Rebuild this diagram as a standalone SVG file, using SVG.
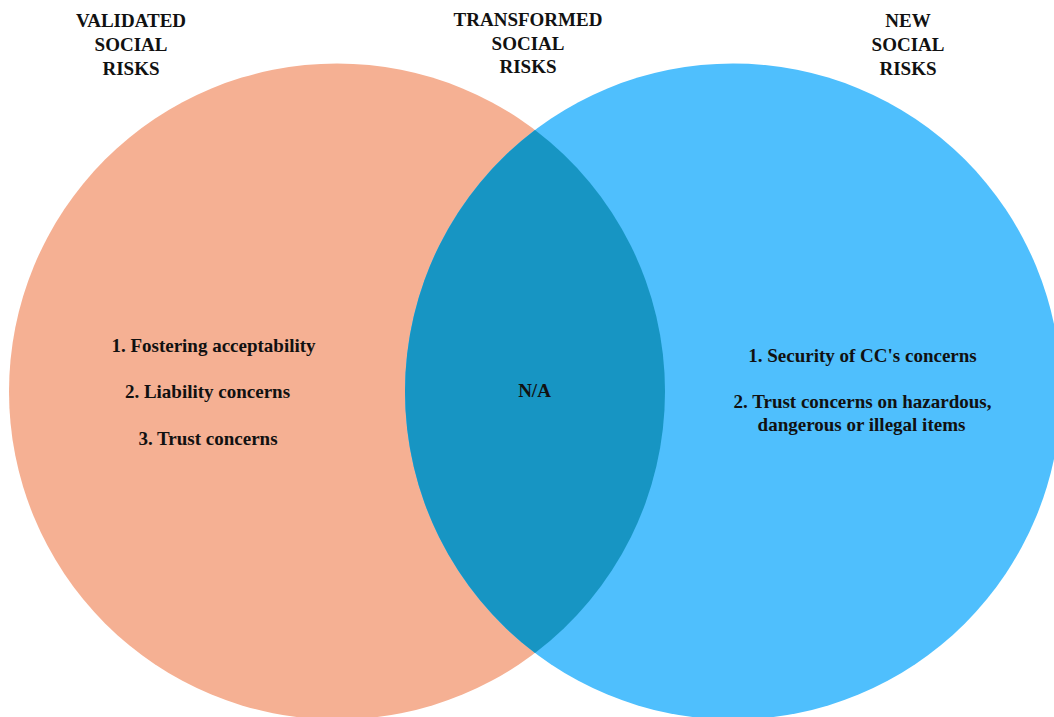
<svg xmlns="http://www.w3.org/2000/svg" width="1054" height="717" viewBox="0 0 1054 717">
  <style>
    .t { font-family: "Liberation Serif", "Times New Roman", serif; font-weight: bold; font-size: 19px; fill: #111; text-anchor: middle; }
  </style>
  <rect x="0" y="0" width="1054" height="717" fill="#ffffff"/>
  <g id="validated">
    <circle cx="337" cy="391.5" r="328" fill="#F5B093"/>
  </g>
  <g id="new">
    <circle cx="733" cy="391.5" r="328" fill="#4FBFFD"/>
  </g>
  <g id="transformed">
    <path d="M 535 130 A 328 328 0 0 1 535 653 A 328 328 0 0 1 535 130 Z" fill="#1795C3"/>
  </g>
  <g id="connectors"></g>
  <g id="labels">
    <text class="t" x="131" y="27">VALIDATED</text>
    <text class="t" x="131" y="51">SOCIAL</text>
    <text class="t" x="131" y="75">RISKS</text>
    <text class="t" x="528" y="26">TRANSFORMED</text>
    <text class="t" x="528" y="49.5">SOCIAL</text>
    <text class="t" x="528" y="73">RISKS</text>
    <text class="t" x="908" y="27">NEW</text>
    <text class="t" x="908" y="51">SOCIAL</text>
    <text class="t" x="908" y="75">RISKS</text>
    <text class="t" x="213.5" y="352">1. Fostering acceptability</text>
    <text class="t" x="207.5" y="398">2. Liability concerns</text>
    <text class="t" x="208" y="445">3. Trust concerns</text>
    <text class="t" x="534.5" y="397">N/A</text>
    <text class="t" x="862.5" y="362">1. Security of CC's concerns</text>
    <text class="t" x="862.5" y="408">2. Trust concerns on hazardous,</text>
    <text class="t" x="861.5" y="431">dangerous or illegal items</text>
  </g>
</svg>
